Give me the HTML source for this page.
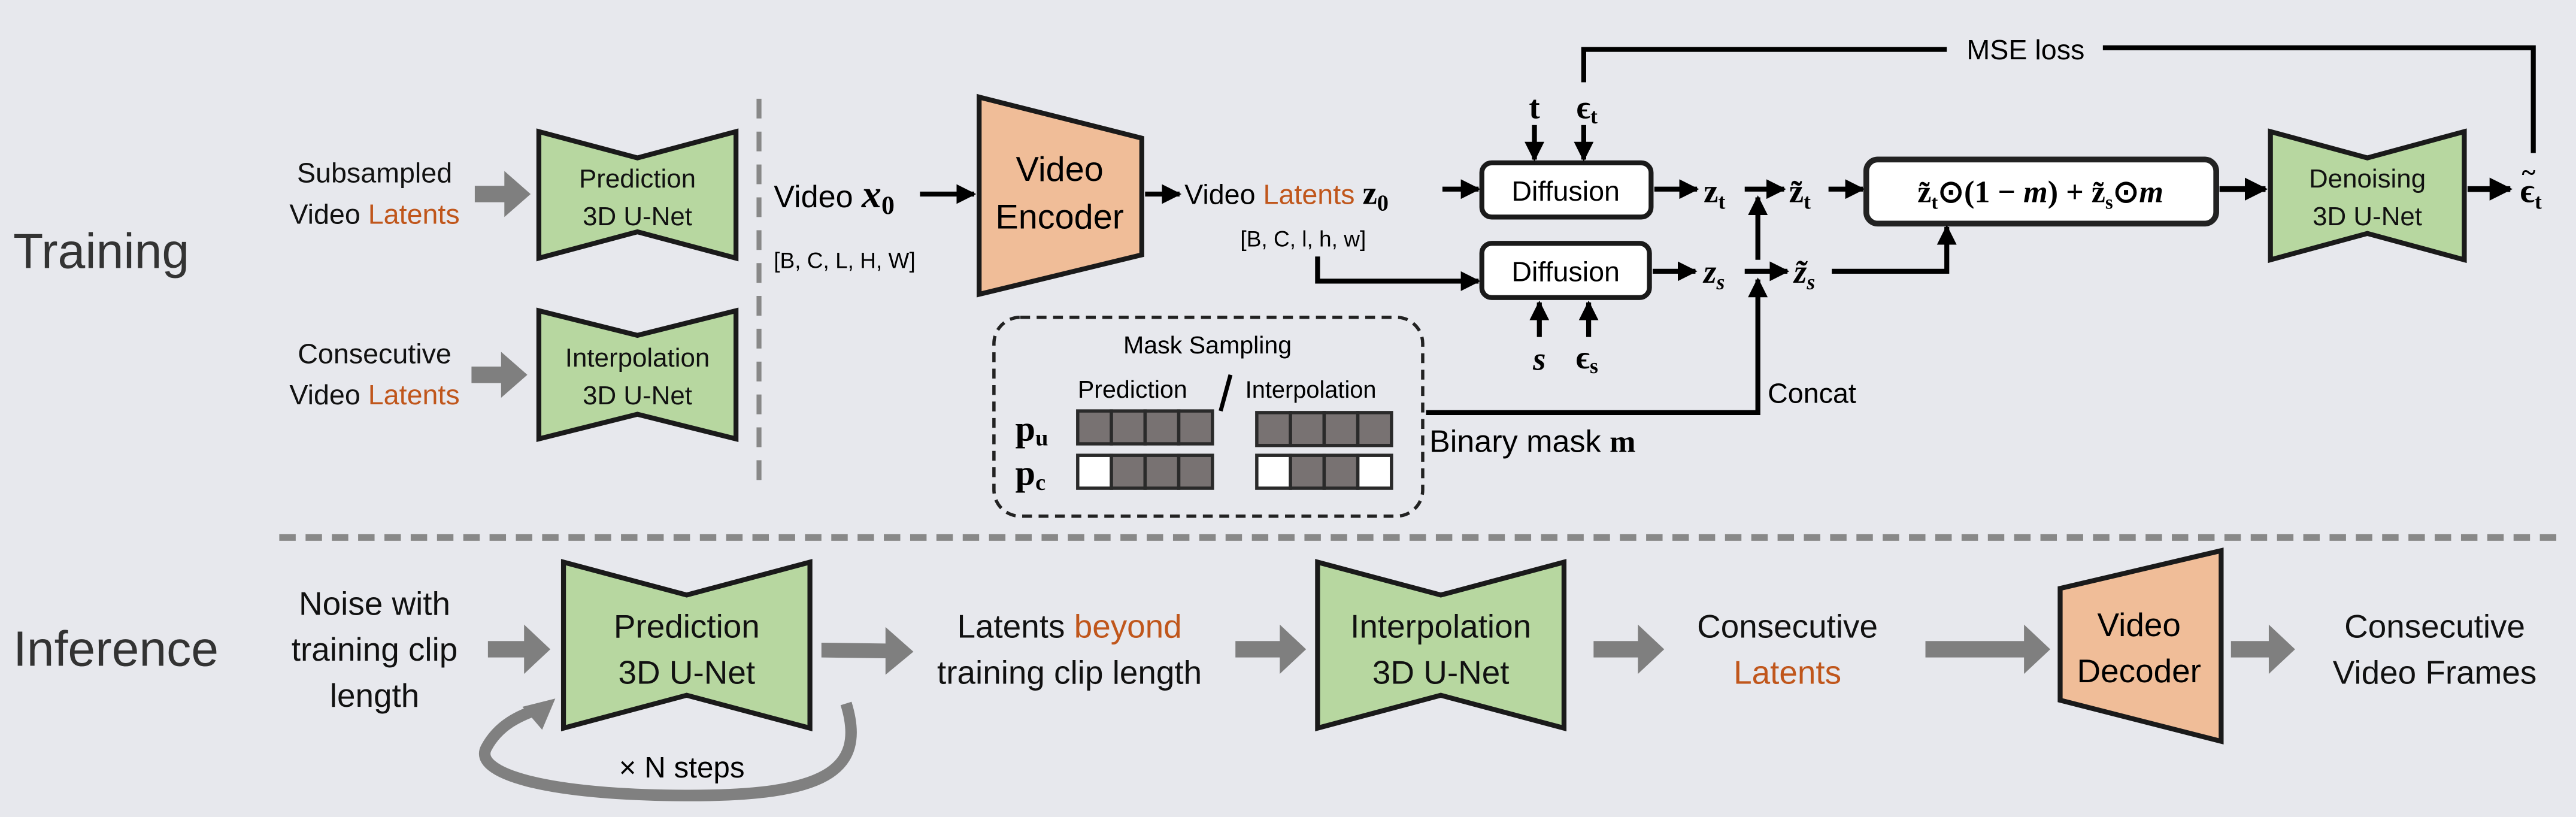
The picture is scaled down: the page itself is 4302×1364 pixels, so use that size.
<!DOCTYPE html>
<html><head><meta charset="utf-8"><style>
html,body{margin:0;padding:0;background:#e7e8ed;}
svg{display:block}
text{font-family:"Liberation Sans",sans-serif;}
.m{font-family:"Liberation Serif",serif;font-weight:bold;}
</style></head><body>
<svg width="4302" height="1364" viewBox="0 0 1568 497" xmlns="http://www.w3.org/2000/svg">
<defs>
<marker id="a" viewBox="0 0 10 10" refX="9" refY="5" markerWidth="4" markerHeight="4" orient="auto"><path d="M0,0L10,5L0,10z" fill="#000"/></marker>
</defs>
<rect width="1568" height="497" fill="#e7e8ed"/>
<text x="8" y="163" font-size="30" fill="#333">Training</text>
<text x="8" y="405" font-size="30" fill="#333">Inference</text>
<line x1="462" y1="60" x2="462" y2="300" stroke="#888" stroke-width="3" stroke-dasharray="12,8"/>
<line x1="170" y1="327" x2="1560" y2="327" stroke="#888" stroke-width="4" stroke-dasharray="10,6"/>

<g font-size="17" text-anchor="middle" fill="#111">
<text x="228" y="111">Subsampled</text>
<text x="228" y="136">Video <tspan fill="#c0561b">Latents</tspan></text>
<text x="228" y="221">Consecutive</text>
<text x="228" y="246">Video <tspan fill="#c0561b">Latents</tspan></text>
</g>
<g fill="#7f7f7f">
<path d="M289,113h18v-9l16,14l-16,14v-9h-18z"/>
<path d="M287,223h18v-9l16,14l-16,14v-9h-18z"/>
</g>
<g fill="#b7d7a0" stroke="#1a1a1a" stroke-width="3">
<path d="M328,80L388,96L448,80V157L388,141L328,157Z"/>
<path d="M328,189L388,204L448,189V267L388,252L328,267Z"/>
<path d="M1382,80L1441,96L1500,80V158L1441,142L1382,158Z"/>
</g>
<g font-size="16" text-anchor="middle" fill="#111">
<text x="388" y="114">Prediction</text>
<text x="388" y="137">3D U-Net</text>
<text x="388" y="223">Interpolation</text>
<text x="388" y="246">3D U-Net</text>
<text x="1441" y="114">Denoising</text>
<text x="1441" y="137">3D U-Net</text>
</g>

<text x="471" y="126" font-size="19">Video <tspan class="m" font-style="italic" font-size="24">x</tspan><tspan class="m" font-size="16" dy="4">0</tspan></text>
<text x="471" y="163" font-size="13.5">[B, C, L, H, W]</text>
<line x1="560" y1="118" x2="593" y2="118" stroke="#000" stroke-width="3" marker-end="url(#a)"/>
<path d="M596,59L695,84V155L596,179Z" fill="#f0bd98" stroke="#1a1a1a" stroke-width="3"/>
<text x="645" y="110" font-size="21" text-anchor="middle">Video</text>
<text x="645" y="139" font-size="21" text-anchor="middle">Encoder</text>
<line x1="697" y1="118" x2="718" y2="118" stroke="#000" stroke-width="3" marker-end="url(#a)"/>
<text x="721" y="124" font-size="17">Video <tspan fill="#c0561b">Latents</tspan> <tspan class="m" font-size="20">z</tspan><tspan class="m" font-size="14" dy="4">0</tspan></text>
<text x="755" y="150" font-size="13.5">[B, C, l, h, w]</text>
<line x1="878" y1="115" x2="900" y2="115" stroke="#000" stroke-width="3" marker-end="url(#a)"/>
<path d="M802,156V171H900" fill="none" stroke="#000" stroke-width="3" marker-end="url(#a)"/>

<rect x="902" y="99" width="103" height="33" rx="6" fill="#fff" stroke="#1a1a1a" stroke-width="3"/>
<rect x="902" y="148" width="102" height="33" rx="6" fill="#fff" stroke="#1a1a1a" stroke-width="3"/>
<text x="953" y="122" font-size="17" text-anchor="middle">Diffusion</text>
<text x="953" y="171" font-size="17" text-anchor="middle">Diffusion</text>
<text x="934" y="72" class="m" font-size="20" text-anchor="middle">t</text>
<text x="966" y="72" class="m" font-size="20" text-anchor="middle">ϵ<tspan font-size="13" dy="3">t</tspan></text>
<line x1="934" y1="76" x2="934" y2="97" stroke="#000" stroke-width="3" marker-end="url(#a)"/>
<line x1="964" y1="76" x2="964" y2="97" stroke="#000" stroke-width="3" marker-end="url(#a)"/>
<text x="937" y="225" class="m" font-style="italic" font-size="20" text-anchor="middle">s</text>
<text x="966" y="224" class="m" font-size="20" text-anchor="middle">ϵ<tspan font-size="13" dy="3">s</tspan></text>
<line x1="937" y1="205" x2="937" y2="184" stroke="#000" stroke-width="3" marker-end="url(#a)"/>
<line x1="967" y1="205" x2="967" y2="184" stroke="#000" stroke-width="3" marker-end="url(#a)"/>

<path d="M964,50V30H1185" fill="none" stroke="#000" stroke-width="3"/>
<text x="1233" y="36" font-size="17" text-anchor="middle">MSE loss</text>
<path d="M1280,29H1542V93" fill="none" stroke="#000" stroke-width="3"/>

<line x1="1007" y1="115" x2="1033" y2="115" stroke="#000" stroke-width="3" marker-end="url(#a)"/>
<text x="1037" y="123" class="m" font-size="20">z<tspan font-size="13" dy="4">t</tspan></text>
<line x1="1062" y1="115" x2="1086" y2="115" stroke="#000" stroke-width="3" marker-end="url(#a)"/>
<text x="1089" y="123" class="m" font-size="20">z̃<tspan font-size="13" dy="4">t</tspan></text>
<line x1="1113" y1="115" x2="1134" y2="115" stroke="#000" stroke-width="3" marker-end="url(#a)"/>
<rect x="1136" y="97" width="213" height="39" rx="7" fill="#fff" stroke="#222" stroke-width="3.5"/>
<text x="1242" y="123" class="m" font-size="19" text-anchor="middle">z̃<tspan font-size="12" dy="4">t</tspan><tspan dy="-4">⊙(1 − </tspan><tspan font-style="italic">m</tspan>) + z̃<tspan font-size="12" dy="4">s</tspan><tspan dy="-4">⊙</tspan><tspan font-style="italic">m</tspan></text>
<line x1="1351" y1="115" x2="1379" y2="115" stroke="#000" stroke-width="3.5" marker-end="url(#a)"/>
<line x1="1502" y1="115" x2="1528" y2="115" stroke="#000" stroke-width="3.5" marker-end="url(#a)"/>
<text x="1534" y="123" class="m" font-size="21">ϵ<tspan font-size="13" dy="4">t</tspan></text>
<text x="1535" y="110" class="m" font-size="16">~</text>

<line x1="1006" y1="165" x2="1032" y2="165" stroke="#000" stroke-width="3" marker-end="url(#a)"/>
<text x="1037" y="172" class="m" font-style="italic" font-size="20">z<tspan font-size="13" dy="4">s</tspan></text>
<line x1="1062" y1="165" x2="1088" y2="165" stroke="#000" stroke-width="3" marker-end="url(#a)"/>
<text x="1092" y="172" class="m" font-style="italic" font-size="20">z̃<tspan font-size="13" dy="4">s</tspan></text>
<path d="M1115,165H1185V138" fill="none" stroke="#000" stroke-width="3" marker-end="url(#a)"/>
<line x1="1070" y1="158" x2="1070" y2="120" stroke="#000" stroke-width="3" marker-end="url(#a)"/>
<path d="M868,251H1070V170" fill="none" stroke="#000" stroke-width="3" marker-end="url(#a)"/>
<text x="1076" y="245" font-size="17">Concat</text>
<text x="870" y="275" font-size="19">Binary mask <tspan class="m">m</tspan></text>

<rect x="605" y="193" width="261" height="121" rx="16" fill="none" stroke="#222" stroke-width="2" stroke-dasharray="6,4"/>
<text x="735" y="215" font-size="15" text-anchor="middle">Mask Sampling</text>
<text x="656" y="242" font-size="15">Prediction</text>
<line x1="749" y1="228" x2="743" y2="250" stroke="#000" stroke-width="2.5"/>
<text x="758" y="242" font-size="14.5">Interpolation</text>
<text x="618" y="268" class="m" font-size="22">p<tspan font-size="14" dy="3">u</tspan></text>
<text x="618" y="295" class="m" font-size="22">p<tspan font-size="14" dy="3">c</tspan></text>
<g stroke="#2a2a2a" stroke-width="2">
<rect x="656" y="250" width="20.5" height="20" fill="#787272"/><rect x="676.5" y="250" width="20.5" height="20" fill="#787272"/><rect x="697" y="250" width="20.5" height="20" fill="#787272"/><rect x="717.5" y="250" width="20.5" height="20" fill="#787272"/>
<rect x="656" y="277" width="20.5" height="20" fill="#fff"/><rect x="676.5" y="277" width="20.5" height="20" fill="#787272"/><rect x="697" y="277" width="20.5" height="20" fill="#787272"/><rect x="717.5" y="277" width="20.5" height="20" fill="#787272"/>
<rect x="765" y="251" width="20.5" height="20" fill="#787272"/><rect x="785.5" y="251" width="20.5" height="20" fill="#787272"/><rect x="806" y="251" width="20.5" height="20" fill="#787272"/><rect x="826.5" y="251" width="20.5" height="20" fill="#787272"/>
<rect x="765" y="277" width="20.5" height="20" fill="#fff"/><rect x="785.5" y="277" width="20.5" height="20" fill="#787272"/><rect x="806" y="277" width="20.5" height="20" fill="#787272"/><rect x="826.5" y="277" width="20.5" height="20" fill="#fff"/>
</g>

<g font-size="20" text-anchor="middle" fill="#111">
<text x="228" y="374">Noise with</text>
<text x="228" y="402">training clip</text>
<text x="228" y="430">length</text>
<text x="651" y="388">Latents <tspan fill="#c0561b">beyond</tspan></text>
<text x="651" y="416">training clip length</text>
<text x="1088" y="388">Consecutive</text>
<text x="1088" y="416" fill="#c0561b">Latents</text>
<text x="1482" y="388">Consecutive</text>
<text x="1482" y="416">Video Frames</text>
</g>
<g fill="#b7d7a0" stroke="#1a1a1a" stroke-width="3">
<path d="M343,342L418,362L493,342V443L418,423L343,443Z"/>
<path d="M802,342L877,362L952,342V443L877,423L802,443Z"/>
</g>
<g font-size="20" text-anchor="middle" fill="#111">
<text x="418" y="388">Prediction</text>
<text x="418" y="416">3D U-Net</text>
<text x="877" y="388">Interpolation</text>
<text x="877" y="416">3D U-Net</text>
</g>
<path d="M1254,358L1352,335V451L1254,426Z" fill="#f0bd98" stroke="#1a1a1a" stroke-width="3"/>
<text x="1302" y="387" font-size="20" text-anchor="middle">Video</text>
<text x="1302" y="415" font-size="20" text-anchor="middle">Decoder</text>
<g fill="#7f7f7f">
<path d="M297,390h22v-10l16,15l-16,15v-10h-22z"/>
<path d="M500,391l39,0.5v-10l17,15l-17,14v-10l-39,-0.5z"/>
<path d="M752,390h27v-10l16,15l-16,15v-10h-27z"/>
<path d="M970,390h27v-10l16,15l-16,15v-10h-27z"/>
<path d="M1172,390h60v-10l16,15l-16,15v-10h-60z"/>
<path d="M1358,390h23v-10l16,15l-16,15v-10h-23z"/>
</g>
<path d="M515,428C528,470 500,484 420,484C330,484 288,470 296,455C304,440 318,435 326,432" fill="none" stroke="#808080" stroke-width="7"/>
<path d="M338,425L330,444L318,430Z" fill="#808080"/>
<text x="415" y="473" font-size="18" text-anchor="middle">× N steps</text>
</svg>
</body></html>
